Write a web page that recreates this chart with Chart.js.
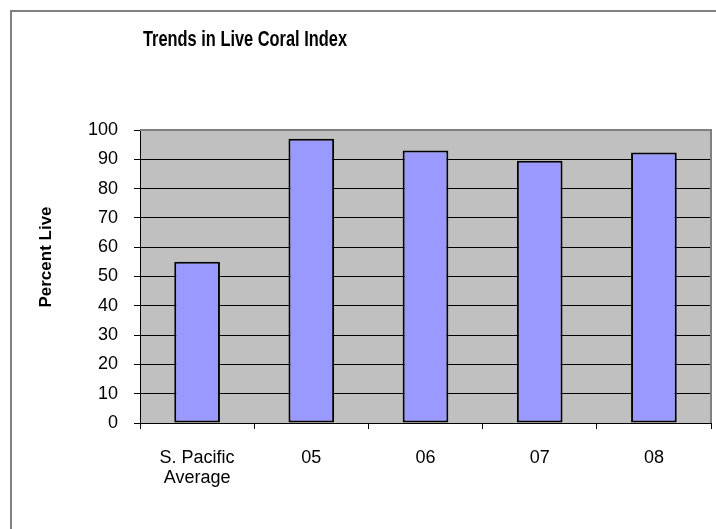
<!DOCTYPE html>
<html>
<head>
<meta charset="utf-8">
<script src="https://cdn.jsdelivr.net/npm/chart.js@4/dist/chart.umd.min.js"></script>
<style>
  html, body { margin: 0; padding: 0; background: #fff; }
  #wrap { width: 716px; height: 529px; position: relative; }
</style>
</head>
<body>
<div id="wrap"><canvas id="coralChart"></canvas></div>
<script>
// chart data
const categories = [["S. Pacific", "Average"], "05", "06", "07", "08"];
const percentLive = [55, 97, 93, 89.5, 92.3];
const yTicks = [0, 10, 20, 30, 40, 50, 60, 70, 80, 90, 100];
const chartTitle = "Trends in Live Coral Index";
const yTitle = "Percent Live";

const FONT = "Arial, 'Liberation Sans', sans-serif";

// draws the outer frame, grey plot background, the chart title and the y title
const framePlugin = {
    id: "frame",
    beforeDraw(chart) {
        const ctx = chart.ctx;
        const a = chart.chartArea;
        ctx.save();
        ctx.fillStyle = "#ffffff";
        ctx.fillRect(0, 0, chart.width, chart.height);
        // outer frame (only top and left are visible)
        ctx.strokeStyle = "#808080";
        ctx.lineWidth = 2;
        ctx.beginPath();
        ctx.moveTo(11, chart.height + 2);
        ctx.lineTo(11, 11);
        ctx.lineTo(chart.width + 2, 11);
        ctx.stroke();
        // plot area
        ctx.fillStyle = "#c0c0c0";
        ctx.fillRect(a.left, a.top, a.right - a.left, a.bottom - a.top);

        // title - narrow and tall like the original
        ctx.fillStyle = "#000";
        ctx.font = "bold 22px " + FONT;
        ctx.textAlign = "center";
        ctx.textBaseline = "alphabetic";
        const w = ctx.measureText(chartTitle).width;
        const sx = 204 / w;
        ctx.save();
        ctx.translate(245, 46);
        ctx.scale(sx, 1);
        ctx.fillText(chartTitle, 0, 0);
        ctx.restore();

        // y axis title
        ctx.font = "bold 17px " + FONT;
        ctx.textBaseline = "middle";
        ctx.save();
        ctx.translate(46, 257);
        ctx.rotate(-Math.PI / 2);
        ctx.fillText(yTitle, 0, 0);
        ctx.restore();
        ctx.restore();
    },
    afterDatasetsDraw(chart) {
        const ctx = chart.ctx;
        const a = chart.chartArea;
        ctx.save();
        ctx.strokeStyle = "#808080";
        ctx.lineWidth = 2;
        ctx.beginPath();
        ctx.moveTo(a.left, a.top);
        ctx.lineTo(a.right, a.top);
        ctx.lineTo(a.right, a.bottom);
        ctx.stroke();
        ctx.restore();
    }
};

const ctx = document.getElementById("coralChart").getContext("2d");
new Chart(ctx, {
    type: "bar",
    data: {
        labels: categories,
        datasets: [
            {
                label: yTitle,
                data: percentLive,
                backgroundColor: "#9999ff",
                borderColor: "#000000",
                borderWidth: 2,
                borderSkipped: false,
                barPercentage: 0.4,
                categoryPercentage: 1.0,
            },
        ],
    },
    options: {
        responsive: true,
        maintainAspectRatio: false,
        animation: false,
        devicePixelRatio: 1,
        layout: { padding: { left: 20, top: 130, right: 5, bottom: 0 } },
        plugins: {
            legend: { display: false },
            title: { display: false },
            tooltip: { enabled: false },
        },
        scales: {
            x: {
                offset: true,
                grid: {
                    offset: true,
                    drawOnChartArea: false,
                    drawTicks: true,
                    tickLength: 6,
                    color: "#000",
                },
                border: { color: "#000", width: 1 },
                ticks: {
                    color: "#000",
                    font: { family: FONT, size: 18, lineHeight: 1.11 },
                    padding: 19,
                    maxRotation: 0,
                    autoSkip: false,
                },
                afterFit: (scale) => { scale.height = 106; },
            },
            y: {
                min: 0,
                max: 100,
                afterBuildTicks: (scale) => { scale.ticks = yTicks.map((v) => ({ value: v })); },
                grid: {
                    color: "#000",
                    lineWidth: 1,
                    drawTicks: true,
                    tickLength: 6,
                },
                border: { color: "#000", width: 1 },
                ticks: {
                    color: "#000",
                    font: { family: FONT, size: 18 },
                    padding: 16,
                },
                afterFit: (scale) => { scale.width = 120; },
            },
        },
    },
    plugins: [framePlugin],
});
</script>
</body>
</html>
